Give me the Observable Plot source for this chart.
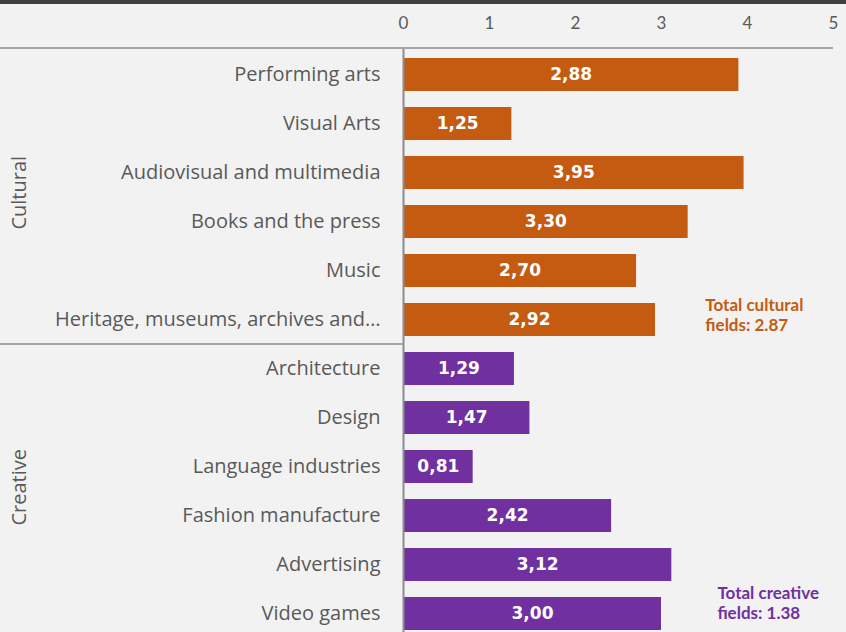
<!DOCTYPE html>
<html>
<head>
<meta charset="utf-8">
<script src="https://cdn.jsdelivr.net/npm/d3@7"></script>
<script src="https://cdn.jsdelivr.net/npm/@observablehq/plot@0.6"></script>
<style>
  html, body { margin: 0; padding: 0; background: #f2f2f2; }
  #band { height: 4px; background: #404040; }
  #chart svg { display: block; }
</style>
</head>
<body>
<div id="band"></div>
<div id="chart"></div>
<script>
const categories = [
  "Performing arts", "Visual Arts", "Audiovisual and multimedia", "Books and the press",
  "Music", "Heritage, museums, archives and…",
  "Architecture", "Design", "Language industries", "Fashion manufacture", "Advertising", "Video games"
];
const groups = ["Cultural","Cultural","Cultural","Cultural","Cultural","Cultural",
                "Creative","Creative","Creative","Creative","Creative","Creative"];
const values = [3.90, 1.26, 3.96, 3.31, 2.71, 2.93, 1.29, 1.47, 0.81, 2.42, 3.12, 3.00];
const valueLabels = ["2,88","1,25","3,95","3,30","2,70","2,92","1,29","1,47","0,81","2,42","3,12","3,00"];
const groupNames = ["Cultural", "Creative"];
const totalCategories = ["Heritage, museums, archives and…", "Video games"];
const totalTexts = ["Total cultural\nfields: 2.87", "Total creative\nfields: 1.38"];
const totalX = [3.51, 3.65];
const tickValues = [0, 1, 2, 3, 4, 5];

const data = categories.map((c, i) => ({cat: c, group: groups[i], value: values[i], label: valueLabels[i]}));
const totals = totalCategories.map((c, i) => ({cat: c, group: groupNames[i], x: totalX[i], text: totalTexts[i]}));

const colors = ["#c55a11", "#7030a0"];
const marginTop = 44;

const plot = Plot.plot({
  width: 846,
  height: 628,
  marginTop,
  marginLeft: 403,
  marginRight: 13,
  marginBottom: 0,
  style: {background: "transparent", overflow: "visible"},
  x: {domain: [0, 5], ticks: tickValues, label: null},
  y: {domain: categories, range: [45.5, 634.5], paddingInner: 0.33, paddingOuter: 0.165, label: null},
  color: {domain: groupNames, range: colors},
  marks: [
    Plot.barX(data, {x: "value", y: "cat", fill: "group"}),
    Plot.text(data, {x: d => d.value / 2, y: "cat", text: "label", fill: "white",
      fontWeight: "bold", fontSize: 17, fontFamily: "DejaVu Sans"}),
    Plot.text(totals.filter(d => d.group === "Cultural"), {x: "x", y: "cat", text: "text", fill: "group",
      textAnchor: "start", dy: -5, lineHeight: 1.18, fontWeight: "bold", fontSize: 17, fontFamily: "Lato"}),
    Plot.text(totals.filter(d => d.group === "Creative"), {x: "x", y: "cat", text: "text", fill: "group",
      textAnchor: "start", dy: -11, lineHeight: 1.18, fontWeight: "bold", fontSize: 17, fontFamily: "Lato"}),
    Plot.ruleX([0], {stroke: "#8c8c8c", strokeWidth: 2}),
    Plot.axisX({anchor: "top", ticks: tickValues, tickFormat: d3.format("d"), tickSize: 0, tickPadding: 20,
      fontSize: 17, fontFamily: "Lato", color: "#595959", label: null}),
    Plot.axisY({tickSize: 0, tickPadding: 23, fontSize: 20, fontFamily: "Open Sans",
      color: "#595959", label: null})
  ]
});

document.getElementById("chart").appendChild(plot);

// Decorations derived from the scales
const xs = plot.scale("x");
const ys = plot.scale("y");
const xPos = v => xs.range[0] + (v - xs.domain[0]) / (xs.domain[1] - xs.domain[0]) * (xs.range[1] - xs.range[0]);
const yBand = d3.scaleBand().domain(ys.domain).range(ys.range)
  .paddingInner(ys.paddingInner ?? 0.33).paddingOuter(ys.paddingOuter ?? 0.165).align(ys.align ?? 0.5);
const yc = c => yBand(c) + yBand.bandwidth() / 2;

const svg = d3.select(plot);
const deco = svg.append("g");
deco.append("line")
  .attr("x1", 0).attr("x2", xPos(5))
  .attr("y1", marginTop).attr("y2", marginTop)
  .attr("stroke", "#a6a6a6").attr("stroke-width", 2);
const sepY = (yc("Heritage, museums, archives and…") + yc("Architecture")) / 2;
deco.append("line")
  .attr("x1", 0).attr("x2", xPos(0))
  .attr("y1", sepY).attr("y2", sepY)
  .attr("stroke", "#a6a6a6").attr("stroke-width", 2);

groupNames.forEach(g => {
  const cats = categories.filter((c, i) => groups[i] === g);
  const mid = (yc(cats[0]) + yc(cats[cats.length - 1])) / 2;
  deco.append("text")
    .attr("transform", `translate(26,${mid - 4}) rotate(-90)`)
    .attr("text-anchor", "middle")
    .attr("font-family", "Open Sans")
    .attr("font-size", 20)
    .attr("fill", "#595959")
    .text(g);
});
</script>
</body>
</html>
